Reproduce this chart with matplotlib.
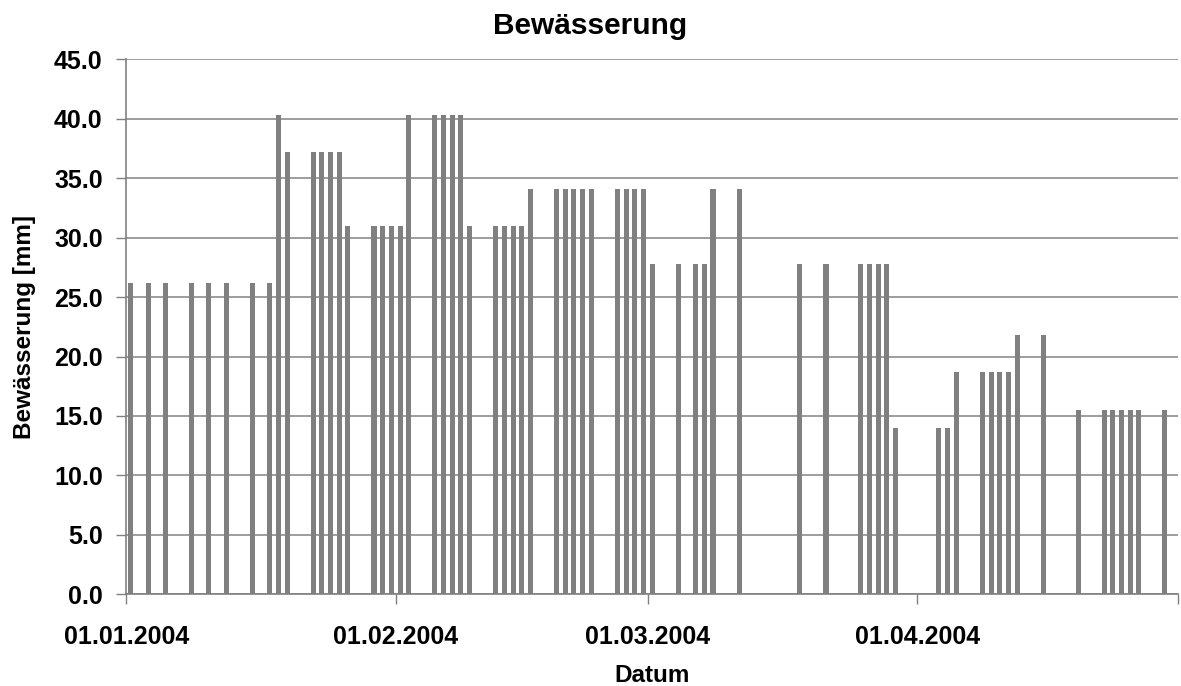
import numpy as np
import pandas as pd
import matplotlib
matplotlib.use("Agg")
import matplotlib.pyplot as plt
import matplotlib.dates as mdates

plt.rcParams['font.family'] = ['Liberation Sans', 'DejaVu Sans']
plt.rcParams['font.weight'] = 'bold'

# irrigation events (date, amount in mm)
dates = [
    "2004-01-01", "2004-01-03", "2004-01-05", "2004-01-08", "2004-01-10",
    "2004-01-12", "2004-01-15", "2004-01-17", "2004-01-18", "2004-01-19",
    "2004-01-22", "2004-01-23", "2004-01-24", "2004-01-25", "2004-01-26",
    "2004-01-29", "2004-01-30", "2004-01-31", "2004-02-01", "2004-02-02",
    "2004-02-05", "2004-02-06", "2004-02-07", "2004-02-08", "2004-02-09",
    "2004-02-12", "2004-02-13", "2004-02-14", "2004-02-15", "2004-02-16",
    "2004-02-19", "2004-02-20", "2004-02-21", "2004-02-22", "2004-02-23",
    "2004-02-26", "2004-02-27", "2004-02-28", "2004-02-29", "2004-03-01",
    "2004-03-04", "2004-03-06", "2004-03-07", "2004-03-08", "2004-03-11",
    "2004-03-18", "2004-03-21", "2004-03-25", "2004-03-26", "2004-03-27",
    "2004-03-28", "2004-03-29", "2004-04-03", "2004-04-04", "2004-04-05",
    "2004-04-08", "2004-04-09", "2004-04-10", "2004-04-11", "2004-04-12",
    "2004-04-15", "2004-04-19", "2004-04-22", "2004-04-23", "2004-04-24",
    "2004-04-25", "2004-04-26", "2004-04-29",
]
irrigation = [
    26.2, 26.2, 26.2, 26.2, 26.2,
    26.2, 26.2, 26.2, 40.3, 37.2,
    37.2, 37.2, 37.2, 37.2, 31.0,
    31.0, 31.0, 31.0, 31.0, 40.3,
    40.3, 40.3, 40.3, 40.3, 31.0,
    31.0, 31.0, 31.0, 31.0, 34.1,
    34.1, 34.1, 34.1, 34.1, 34.1,
    34.1, 34.1, 34.1, 34.1, 27.8,
    27.8, 27.8, 27.8, 34.1, 34.1,
    27.8, 27.8, 27.8, 27.8, 27.8,
    27.8, 14.0, 14.0, 14.0, 18.7,
    18.7, 18.7, 18.7, 18.7, 21.8,
    21.8, 15.5, 15.5, 15.5, 15.5,
    15.5, 15.5, 15.5,
]
month_ticks = ["2004-01-01", "2004-02-01", "2004-03-01", "2004-04-01", "2004-05-01"]
yticks = [0, 5, 10, 15, 20, 25, 30, 35, 40, 45]

x = mdates.date2num(pd.to_datetime(dates)) + 0.5  # bar sits in the middle of its day
ticks = mdates.date2num(pd.to_datetime(month_ticks))

fig = plt.figure(figsize=(11.81, 6.86), dpi=100)
ax = fig.add_axes([126.3 / 1181, 1 - 594.3 / 686, (1178 - 126.3) / 1181, 535 / 686])

ax.bar(x, irrigation, width=0.58, color='#808080', zorder=3)

ax.set_xlim(ticks[0], ticks[-1])
ax.set_ylim(0, 45)
ax.set_yticks(yticks)
ax.set_yticklabels([f"{v:.1f}" for v in yticks])
ax.set_xticks(ticks)
ax.set_xticklabels([pd.Timestamp(t).strftime("%d.%m.%Y") for t in month_ticks[:-1]] + [""])

ax.grid(axis='y', color='#8c8c8c', linewidth=1.2, zorder=0)
for s in ['top', 'right']:
    ax.spines[s].set_visible(False)
for s in ['left', 'bottom']:
    ax.spines[s].set_color('#808080')
    ax.spines[s].set_linewidth(1.2)

ax.tick_params(axis='y', length=7, width=1, color='#808080', pad=10, labelsize=18)
ax.tick_params(axis='x', length=7, width=1, color='#808080', pad=15, labelsize=18)

ax.set_xlabel("Datum", fontsize=17.5, fontweight='bold', labelpad=11)
ax.set_ylabel("Bewässerung [mm]", fontsize=17.5, fontweight='bold', labelpad=13)
fig.text(0.5, 1 - 26 / 686, "Bewässerung", ha='center', va='center',
         fontsize=21.5, fontweight='bold')

fig.savefig("out.png", dpi=100)
